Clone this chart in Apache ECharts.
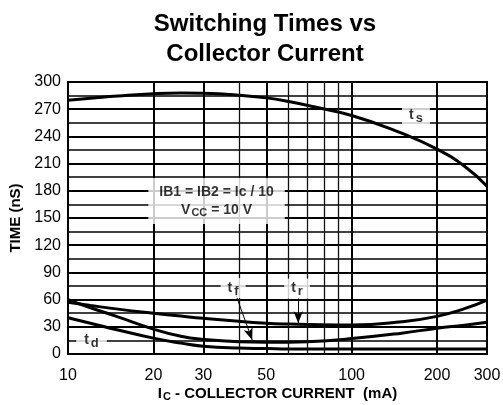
<!DOCTYPE html>
<html>
<head>
<meta charset="utf-8">
<script src="https://cdn.jsdelivr.net/npm/echarts@6/dist/echarts.min.js"></script>
<style>html,body{margin:0;padding:0;background:#fff;}#c{width:503px;height:405px;}</style>
</head>
<body>
<div id="c"></div>
<script>
// Collector current (mA)
const current = [10, 12, 15, 20, 25, 30, 40, 50, 60, 70, 100, 150, 200, 250, 300];
// Switching times (nS)
const ts = [280, 282, 284.5, 287, 287.8, 287.5, 285.5, 282.5, 278.5, 274, 263, 243.5, 226, 207, 185];
const tr = [57, 53.5, 49.5, 45, 41.8, 39.3, 36, 34, 33, 32.5, 32, 35.5, 41.5, 50, 59.5];
const tf = [60, 51, 41, 27.5, 19.5, 16, 13.5, 13, 13, 13.5, 17, 23, 28.5, 31.8, 35];
const td = [40, 34, 26.5, 17.5, 12, 8.5, 6.5, 6, 5.5, 5.5, 5.5, 5.5, 5.5, 5.5, 5.5];
// Axis ticks
const xTickLabels = [10, 20, 30, 50, 100, 200, 300];
const xMinorLines = [40, 60, 70, 80, 90];
const yTicks = [0, 30, 60, 90, 120, 150, 180, 210, 240, 270, 300];

const FONT = 'Liberation Sans, Arial, sans-serif';
const pair = (ys) => current.map((x, i) => [x, ys[i]]);

const chart = echarts.init(document.getElementById('c'));

const curveSeries = (name, ys) => ({
  name, type: 'line', data: pair(ys), smooth: 0.5,
  showSymbol: false, symbol: 'none', z: 3, silent: true,
  lineStyle: { color: '#000', width: 3 }
});

const subLabel = (main, sub, pad) => ({
  show: true, position: 'inside',
  formatter: '{t|' + main + '}{s|' + sub + '}',
  backgroundColor: '#fff', padding: pad,
  rich: {
    t: { fontFamily: FONT, fontSize: 14, fontWeight: 'bold', color: '#000', lineHeight: 16 },
    s: { fontFamily: FONT, fontSize: 13, fontWeight: 'bold', color: '#000', lineHeight: 16, padding: [6, 0, 0, 2] }
  }
});

const option = {
  animation: false,
  textStyle: { fontFamily: FONT, color: '#000' },
  title: {
    text: 'Switching Times vs\nCollector Current',
    left: 260, top: 4, textAlign: 'center',
    textStyle: { fontFamily: FONT, fontSize: 24, fontWeight: 'bold', color: '#000', lineHeight: 30 }
  },
  grid: { left: 68, right: 16, top: 82, bottom: 51, show: true, borderColor: '#000', borderWidth: 2,
    containLabel: false, outerBoundsMode: 'none' },
  xAxis: {
    type: 'log', logBase: 10, min: 10, max: 300,
    axisLine: { show: true, lineStyle: { color: '#000', width: 2 } },
    axisTick: { show: false }, axisLabel: { show: false },
    splitLine: { show: false }, minorSplitLine: { show: false },
    name: '{i|I}{c|C}{n| - COLLECTOR CURRENT  (mA)}',
    nameLocation: 'middle', nameGap: 31,
    nameTextStyle: {
      rich: {
        i: { fontFamily: FONT, fontSize: 15, fontWeight: 'bold', color: '#000', lineHeight: 18 },
        c: { fontFamily: FONT, fontSize: 11, fontWeight: 'bold', color: '#000', lineHeight: 18, padding: [5, 0, 0, 1] },
        n: { fontFamily: FONT, fontSize: 15, fontWeight: 'bold', color: '#000', lineHeight: 18 }
      }
    }
  },
  yAxis: {
    type: 'value', min: 0, max: 300, interval: 30,
    axisLine: { show: true, lineStyle: { color: '#000', width: 2 } },
    axisTick: { show: false },
    axisLabel: { fontFamily: FONT, fontSize: 16, color: '#000', margin: 7,
      formatter: (v) => yTicks.includes(v) ? String(v) : '' },
    splitLine: { show: true, lineStyle: { color: '#000', width: 2 } },
    minorTick: { show: false, splitNumber: 2 },
    minorSplitLine: { show: true, lineStyle: { color: '#000', width: 1.6 } },
    name: 'TIME (nS)', nameLocation: 'middle', nameGap: 44, nameRotate: 90,
    nameTextStyle: { fontFamily: FONT, fontSize: 15, fontWeight: 'bold', color: '#000' }
  },
  series: [
    {
      name: 'grid', type: 'line', data: [[10, 0]], symbol: 'none', showSymbol: false,
      lineStyle: { width: 0, opacity: 0 }, z: 1, silent: true,
      markLine: {
        silent: true, symbol: ['none', 'none'], animation: false,
        emphasis: { disabled: true },
        label: { show: false },
        data: [
          ...xMinorLines.map(v => ({ xAxis: v, lineStyle: { color: '#111', width: 1.3, type: 'solid' } })),
          ...xTickLabels.map(v => ({
            xAxis: v, lineStyle: { color: '#000', width: 2, type: 'solid' },
            label: { show: true, position: 'start', distance: 14, formatter: String(v),
              fontFamily: FONT, fontSize: 16, color: '#000' }
          }))
        ]
      }
    },
    curveSeries('ts', ts),
    curveSeries('tr', tr),
    curveSeries('tf', tf),
    curveSeries('td', td),
    {
      name: 'notes', type: 'scatter', symbolSize: 0, z: 5, silent: true,
      data: [
        { value: [33.4, 168.7], label: {
          show: true, position: 'inside',
          formatter: '{a|IB1 = IB2 = Ic / 10}\n{a|V}{s|CC}{a| = 10 V}',
          backgroundColor: '#fff', padding: [5, 11],
          rich: {
            a: { fontFamily: FONT, fontSize: 14, fontWeight: 'bold', color: '#000', lineHeight: 18 },
            s: { fontFamily: FONT, fontSize: 11, fontWeight: 'bold', color: '#000', lineHeight: 18, padding: [6, 0, 0, 1] }
          }
        } },
        { value: [168.5, 263], label: subLabel('t', 's', [3, 7]) },
        { value: [12.1, 15], label: subLabel('t', 'd', [1, 8]) },
        { value: [38.2, 72.8], label: subLabel('t', 'f', [2, 7]) },
        { value: [64.2, 72.2], label: subLabel('t', 'r', [2, 7]) }
      ],
      markLine: {
        silent: true, symbol: ['none', 'arrow'], symbolSize: [7, 12],
        emphasis: { disabled: true }, label: { show: false },
        lineStyle: { color: '#000', width: 1, type: 'solid' },
        data: [
          [{ coord: [39.1, 65] }, { coord: [44.6, 15.4] }],
          [{ coord: [64.8, 61.7] }, { coord: [64.8, 33.8] }]
        ]
      }
    }
  ]
};
chart.setOption(option);
</script>
</body>
</html>
